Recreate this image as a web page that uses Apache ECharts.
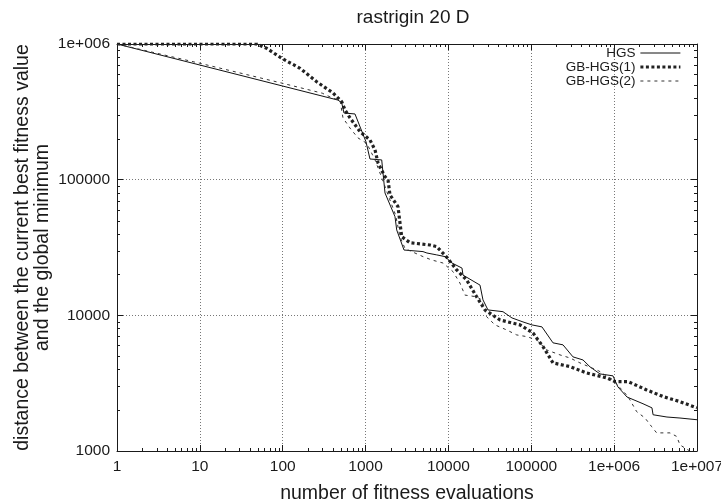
<!DOCTYPE html>
<html><head><meta charset="utf-8">
<script src="https://cdn.jsdelivr.net/npm/echarts@6/dist/echarts.min.js"></script>
<style>html,body{margin:0;padding:0;background:#fff}#c{width:721px;height:503px}</style>
</head><body><div id="c"></div>
<script>
const titleText = 'rastrigin 20 D';
const xTitle = 'number of fitness evaluations';
const yTitle = 'distance between the current best fitness value\nand the global minimum';
const seriesNames = ['HGS', 'GB-HGS(1)', 'GB-HGS(2)'];

const hgsX = [1, 465, 515, 549, 745, 1012, 1130, 1566, 1716, 2265, 2376, 2911, 4931, 5500, 7212, 9082, 11040, 14580, 14990, 24050, 26120, 30000, 45530, 58450, 79370, 101900, 134500, 182800, 241400, 318700, 420800, 511400, 675000, 968000, 1110000, 1430000, 2230000, 2860000, 2950000, 4340000, 6230000, 10000000];
const hgsY = [1000000, 386000, 369000, 310000, 305000, 190000, 142000, 139800, 79800, 53400, 42600, 30300, 29500, 28800, 27900, 27100, 24300, 22300, 19800, 16700, 13000, 10960, 10640, 9570, 8940, 8500, 8220, 6270, 6060, 4940, 4690, 4170, 3700, 3580, 2970, 2500, 2230, 2080, 1850, 1780, 1750, 1700];

const gb1X = [1, 49, 64, 97, 162, 257, 404, 515, 565, 649, 857, 1130, 1300, 1413, 1716, 1866, 1972, 2462, 2603, 2729, 3436, 5990, 7212, 9520, 12580, 16600, 21900, 27600, 41900, 73100, 104900, 138500, 182800, 293000, 466000, 813000, 1020000, 1470000, 2470000, 3890000, 6230000, 10000000];
const gb1Y = [1000000, 1000000, 930000, 785000, 662000, 527000, 436000, 376000, 327000, 285000, 226000, 196000, 165600, 132800, 105200, 99500, 77100, 63200, 47900, 38000, 34300, 33000, 32100, 26900, 21600, 18200, 13700, 10960, 9250, 8500, 7410, 5880, 4460, 4190, 3760, 3460, 3250, 3250, 2820, 2520, 2310, 2080];

const gb2X = [1, 10, 100, 300, 404, 491, 534, 649, 810, 1032, 1300, 1600, 1900, 2300, 2600, 3000, 4931, 6280, 8600, 11350, 13770, 15800, 21900, 25200, 28900, 36500, 50500, 66700, 88000, 116000, 153500, 222000, 293000, 387000, 650000, 968000, 1470000, 1870000, 2360000, 2840000, 3260000, 4720000, 5690000, 6230000, 7170000, 8200000];
const gb2Y = [1000000, 721000, 513000, 434000, 398000, 386000, 285000, 240000, 203000, 185500, 140000, 100000, 75000, 55000, 38000, 31000, 27100, 25600, 24300, 21000, 17300, 14100, 13700, 13000, 9770, 8500, 7800, 7170, 6970, 6590, 5560, 5110, 4850, 4460, 3900, 3340, 2520, 1950, 1750, 1510, 1360, 1360, 1280, 1110, 1050, 1000];

const X_MIN = 1, X_MAX = 10000000, Y_MIN = 1000, Y_MAX = 1000000;
const minorMultipliers = [2, 3, 4, 5, 6, 7, 8, 9];
const xDecades = [1, 10, 100, 1000, 10000, 100000, 1000000];
const yDecades = [1000, 10000, 100000];

const FONT = '"Liberation Sans", Arial, Helvetica, sans-serif';
const INK = '#1a1a1a';

const styleHGS = { color: '#111', width: 1, type: 'solid' };
const styleGB1 = { color: '#222', width: 3.2, type: [3, 2.5] };
const styleGB2 = { color: '#333', width: 1, type: [3, 4] };

function zip(xs, ys) { return xs.map((x, i) => [x, ys[i]]); }
function fmt(v) {
  const e = Math.round(Math.log10(v));
  if (e >= 6) return '1e+' + String(e).padStart(3, '0');
  return String(Math.round(v));
}

const xMinor = [];
xDecades.forEach(d => minorMultipliers.forEach(m => xMinor.push([d * m, Y_MIN])));
const yMinor = [];
yDecades.forEach(d => minorMultipliers.forEach(m => yMinor.push([X_MIN, d * m])));

function renderXMinor(params, api) {
  const v = api.value(0);
  const b = api.coord([v, Y_MIN]);
  const t = api.coord([v, Y_MAX]);
  const x = Math.round(b[0]) + 0.5;
  return { type: 'group', children: [
    { type: 'line', shape: { x1: x, y1: b[1], x2: x, y2: b[1] - 3 }, style: { stroke: INK, lineWidth: 1 } },
    { type: 'line', shape: { x1: x, y1: t[1], x2: x, y2: t[1] + 3 }, style: { stroke: INK, lineWidth: 1 } }
  ]};
}
function renderYMinor(params, api) {
  const v = api.value(1);
  const l = api.coord([X_MIN, v]);
  const r = api.coord([X_MAX, v]);
  const y = Math.round(l[1]) + 0.5;
  return { type: 'group', children: [
    { type: 'line', shape: { x1: l[0], y1: y, x2: l[0] + 3, y2: y }, style: { stroke: INK, lineWidth: 1 } },
    { type: 'line', shape: { x1: r[0], y1: y, x2: r[0] - 3, y2: y }, style: { stroke: INK, lineWidth: 1 } }
  ]};
}

const axisCommon = {
  type: 'log', logBase: 10,
  axisLine: { show: true, onZero: false, lineStyle: { color: INK, width: 1 } },
  axisTick: { show: true, inside: true, length: 6, lineStyle: { color: INK } },
  minorTick: { show: false }
};

const chart = echarts.init(document.getElementById('c'), null, { renderer: 'canvas' });
chart.setOption({
  animation: false,
  backgroundColor: '#fff',
  textStyle: { fontFamily: FONT },
  title: {
    text: titleText, left: 408, top: 3, textAlign: 'center',
    textStyle: { fontSize: 19, fontWeight: 'normal', color: INK, fontFamily: FONT }
  },
  grid: { left: 117, right: 24, top: 44, bottom: 52, containLabel: false, outerBoundsMode: 'none' },
  legend: {
    data: [
      { name: seriesNames[0], lineStyle: styleHGS },
      { name: seriesNames[1], lineStyle: styleGB1 },
      { name: seriesNames[2], lineStyle: styleGB2 }
    ],
    orient: 'vertical', right: 34, top: 41, align: 'right',
    itemWidth: 40, itemHeight: 10, itemGap: 0, selectedMode: false,
    itemStyle: { opacity: 0, borderWidth: 0 },
    textStyle: { fontSize: 13.5, lineHeight: 14, color: INK, fontFamily: FONT }
  },
  xAxis: [
    Object.assign({}, axisCommon, {
      position: 'bottom', min: X_MIN, max: X_MAX,
      name: xTitle, nameLocation: 'middle', nameGap: 33, nameMoveOverlap: false,
      nameTextStyle: { fontSize: 19.5, color: INK, fontFamily: FONT },
      axisLabel: { show: true, margin: 8, fontSize: 15.5, color: INK, fontFamily: FONT, formatter: fmt },
      splitLine: { show: true, lineStyle: { color: '#777', width: 1, type: [1, 2] } }
    }),
    Object.assign({}, axisCommon, {
      position: 'top', min: X_MIN, max: X_MAX,
      axisLabel: { show: false }, splitLine: { show: false }
    })
  ],
  yAxis: [
    Object.assign({}, axisCommon, {
      position: 'left', min: Y_MIN, max: Y_MAX,
      name: yTitle, nameLocation: 'middle', nameGap: 64, nameRotate: 90, nameMoveOverlap: false,
      nameTextStyle: { fontSize: 19.5, color: INK, fontFamily: FONT, lineHeight: 20 },
      axisLabel: { show: true, margin: 7, fontSize: 15.5, color: INK, fontFamily: FONT, formatter: fmt },
      splitLine: { show: true, lineStyle: { color: '#777', width: 1, type: [1, 2] } }
    }),
    Object.assign({}, axisCommon, {
      position: 'right', min: Y_MIN, max: Y_MAX,
      axisLabel: { show: false }, splitLine: { show: false }
    })
  ],
  series: [
    {
      name: seriesNames[0], type: 'line', data: zip(hgsX, hgsY), showSymbol: false, symbol: 'none',
      lineStyle: styleHGS, itemStyle: { color: styleHGS.color }, z: 4
    },
    {
      name: seriesNames[1], type: 'line', data: zip(gb1X, gb1Y), showSymbol: false, symbol: 'none',
      lineStyle: styleGB1, itemStyle: { color: styleGB1.color }, z: 3
    },
    {
      name: seriesNames[2], type: 'line', data: zip(gb2X, gb2Y), showSymbol: false, symbol: 'none',
      lineStyle: styleGB2, itemStyle: { color: styleGB2.color }, z: 5
    },
    { type: 'custom', renderItem: renderXMinor, data: xMinor, silent: true, z: 6, clip: false },
    { type: 'custom', renderItem: renderYMinor, data: yMinor, silent: true, z: 6, clip: false }
  ]
});
</script>
</body></html>
